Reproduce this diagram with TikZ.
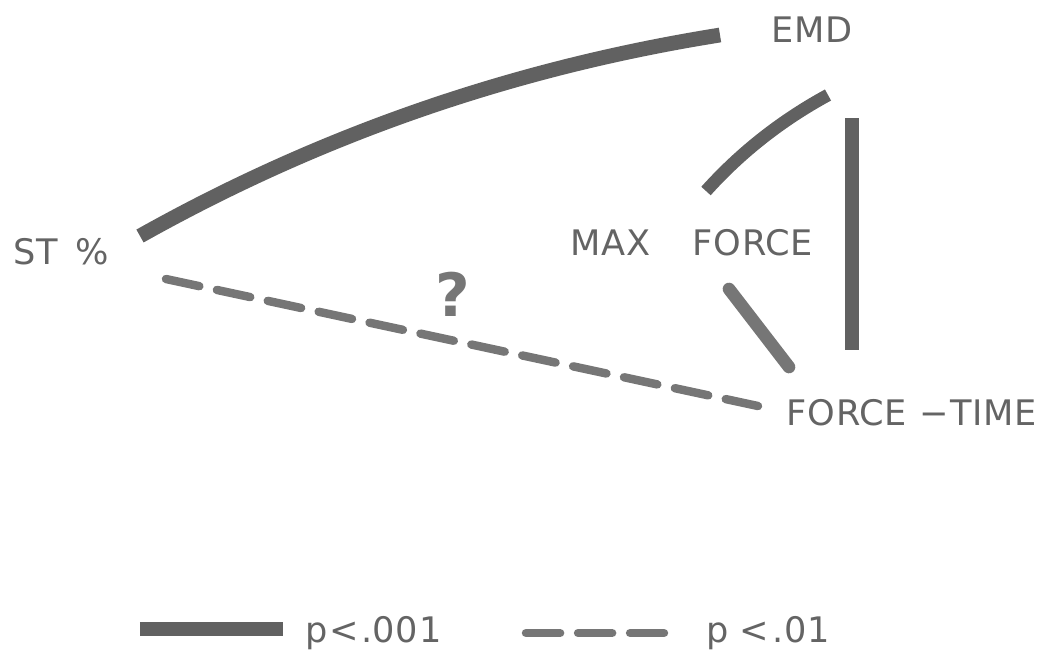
\documentclass[tikz,border=0pt]{standalone}
\usepackage{fontspec}
\setmainfont{DejaVu Sans}[LetterSpace=2]
\definecolor{linegray}{HTML}{616161}
\definecolor{dashgray}{HTML}{767676}
\definecolor{textgray}{HTML}{646464}

\begin{document}
\begin{tikzpicture}[x=0.01cm, y=-0.01cm, font=\fontsize{10}{12}\selectfont,
  lbl/.style={text=textgray, inner sep=0pt, anchor=base west},
  strong/.style={linegray, line width=4.2pt},
  weak/.style={dashgray, line width=2.4pt, line cap=round, dash pattern=on 9.7pt off 5.1pt}]

\useasboundingbox (0,0) rectangle (1038,650);

% Labels
\node[lbl] (st) at (13,264) {ST\hspace{5pt}\%};
\node[lbl] (emd) at (771,42) {EMD};
\node[lbl] (maxf) at (570,255) {MAX\hspace{12pt}FORCE};
\node[lbl] (ft) at (786,425) {FORCE\hspace{3.5pt}−\hspace{0.5pt}TIME};

% Line ends
\coordinate (st-a) at (140,236);
\coordinate (emd-a) at (720,35);
\coordinate (emd-b) at (828,95);
\coordinate (maxf-a) at (706,191);
\coordinate (emd-c) at (852,118);
\coordinate (ft-a) at (852,350);
\coordinate (maxf-b) at (729,289);
\coordinate (ft-b) at (789,367);
\coordinate (st-b) at (166,279);
\coordinate (ft-c) at (758,406);

% ST% -- EMD (p < .001)
\draw[strong] (st-a) .. controls (320,135) and (513,68) .. (emd-a);

% EMD -- MAX FORCE
\draw[strong, line width=3.6pt] (emd-b) .. controls (782,120) and (741,152) .. (maxf-a);

% EMD -- FORCE-TIME
\draw[strong] (emd-c) -- (ft-a);

% MAX FORCE -- FORCE-TIME
\draw[strong, dashgray, line width=3.6pt, line cap=round] (maxf-b) -- (ft-b);

% ST% -- FORCE-TIME (p < .01)
\draw[weak] (st-b) -- (ft-c);
\node[dashgray, font=\fontsize{17}{17}\selectfont\bfseries] (q) at (453,294) {?};

% Legend
\coordinate (key1-a) at (140,629);
\coordinate (key1-b) at (283,629);
\draw[strong] (key1-a) -- (key1-b);
\node[lbl] (key1) at (305,642) {p\hspace{0.5pt}<\hspace{0.5pt}.001};

\coordinate (key2-a) at (526,633);
\coordinate (key2-b) at (664,633);
\draw[weak] (key2-a) -- (key2-b);
\node[lbl] (key2) at (706,642) {p\hspace{3pt}<\hspace{1pt}.01};

\end{tikzpicture}
\end{document}
